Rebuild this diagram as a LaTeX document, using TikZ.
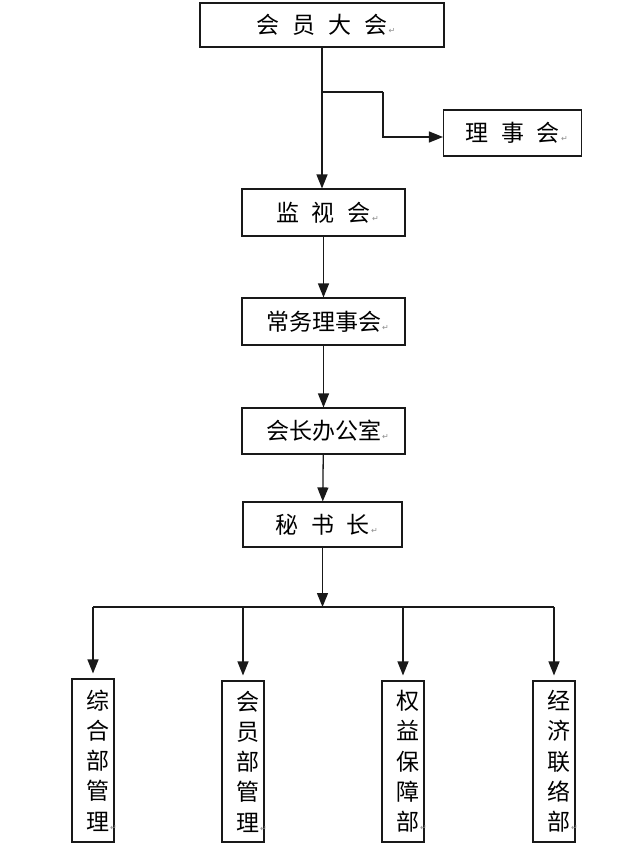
\documentclass[tikz,border=0pt]{standalone}
\usepackage{fontspec}
\usepackage{xcolor}
\usepackage{tikz}
\usetikzlibrary{arrows.meta}
\setmainfont{Noto Sans CJK SC}
\newfontfamily\retfont{DejaVu Sans}
\definecolor{primary}{RGB}{25, 25, 25}
\definecolor{mark}{RGB}{140, 140, 140}
\newcommand{\ret}{\rlap{\kern1pt\fontsize{8}{8}\selectfont\retfont\color{mark}↵}}
\newcommand{\kg}{\hspace{13pt}}

\begin{document}
\begin{tikzpicture}[x=1pt,y=-1pt,
  box/.style={draw=primary,line width=1.1pt,inner sep=0pt,font=\fontsize{23}{23}\selectfont},
  vbox/.style={box,align=left,text width=14pt,minimum width=42pt,font=\fontsize{23}{30.3}\selectfont},
  line/.style={primary,line width=1.3pt},
  link/.style={line,-{Triangle[length=14pt,width=11pt]}}]
\useasboundingbox[fill=white] (0,0) rectangle (635,850);
% top of the chain
\node[box,minimum width=244pt,minimum height=44pt] (dahui) at (322,25) {会\kg 员\kg 大\kg 会\ret};
\node[box,minimum width=138pt,minimum height=46pt] (lishi) at (512.5,133) {理\kg 事\kg 会\ret};
\node[box,minimum width=163pt,minimum height=47pt] (jianshi) at (323.5,212.5) {监\kg 视\kg 会\ret};
\node[box,minimum width=163pt,minimum height=47pt] (changwu) at (323.5,321.5) {常务理事会\ret};
\node[box,minimum width=163pt,minimum height=46pt] (huizhang) at (323.5,431) {会长办公室\ret};
\node[box,minimum width=159pt,minimum height=45pt] (mishu) at (322.5,524.5) {秘\kg 书\kg 长\ret};
% departments
\node[vbox,minimum height=163pt] (b1) at (93,760.5) {综\\合\\部\\管\\理\ret};
\node[vbox,minimum height=161pt] (b2) at (243,761.5) {会\\员\\部\\管\\理\ret};
\node[vbox,minimum height=161pt] (b3) at (403,761.5) {权\\益\\保\\障\\部\ret};
\node[vbox,minimum height=161pt] (b4) at (554,761.5) {经\\济\\联\\络\\部\ret};
\coordinate (fen) at (322,92);
\coordinate (zhe) at (383,92);
\coordinate (hub) at (322.5,607);
\draw[link] (dahui.south) -- (dahui.south |- jianshi.north);
\draw[line] (fen) -- (zhe);
\draw[link] (zhe) |- ([yshift=-4pt]lishi.west);
\draw[link] (jianshi) -- (changwu);
\draw[link] (changwu) -- (huizhang);
\draw[link] (huizhang) -- (mishu);
\draw[link] (mishu.south) -- (hub);
\draw[line] (b1 |- hub) -- (b4 |- hub);
\foreach \b in {b1,b2,b3,b4}
  \draw[link,shorten >=5pt] (\b |- hub) -- (\b.north);
\end{tikzpicture}
\end{document}
